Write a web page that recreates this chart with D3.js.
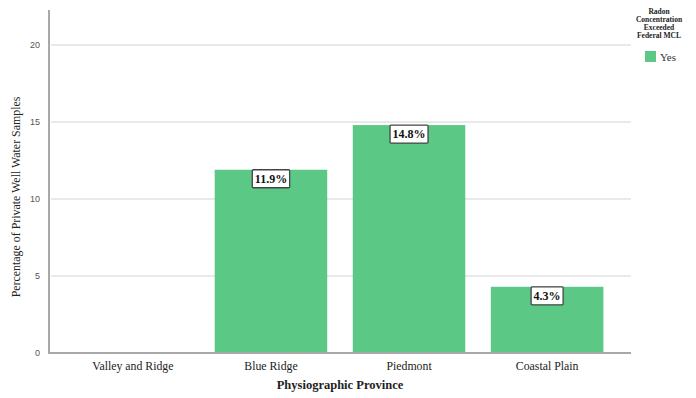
<!DOCTYPE html>
<html>
<head>
<meta charset="utf-8">
<script src="https://cdn.jsdelivr.net/npm/d3@7"></script>
<style>
  html, body { margin: 0; padding: 0; background: #fff; }
  svg { display: block; }
</style>
</head>
<body>
<svg id="chart" width="696" height="398"></svg>
<script>
// Share of private well water samples with radon above the federal MCL
const provinces = ["Valley and Ridge", "Blue Ridge", "Piedmont", "Coastal Plain"];
const pctExceeded = [null, 11.9, 14.8, 4.3];
const yTicks = [0, 5, 10, 15, 20];
const legendTitle = ["Radon", "Concentration", "Exceeded", "Federal MCL"];
const legendLabels = ["Yes"];

const W = 696, H = 398;
const plot = { left: 49, right: 631, top: 10, bottom: 353 };
const barColor = "#5bc985";
const serif = "'Liberation Serif', 'Times New Roman', serif";
const sans = "'Liberation Sans', Arial, sans-serif";

const svg = d3.select("#chart");

const x = d3.scaleBand()
  .domain(provinces)
  .range([plot.left, plot.right])
  .paddingInner(0.185)
  .paddingOuter(0.2);

const y = d3.scaleLinear()
  .domain([0, 20])
  .range([plot.bottom, plot.bottom - 77 * 4]);

// horizontal gridlines
svg.append("g")
  .selectAll("line")
  .data(yTicks.filter(d => d > 0))
  .join("line")
  .attr("x1", plot.left + 2)
  .attr("x2", plot.right)
  .attr("y1", d => y(d))
  .attr("y2", d => y(d))
  .attr("stroke", "#d4d4d4")
  .attr("stroke-width", 1.2);

// bars
const data = provinces.map((p, i) => ({ p, v: pctExceeded[i] })).filter(d => d.v != null);

svg.append("g")
  .selectAll("rect")
  .data(data)
  .join("rect")
  .attr("x", d => x(d.p))
  .attr("width", x.bandwidth())
  .attr("y", d => y(d.v))
  .attr("height", d => y(0) - y(d.v))
  .attr("fill", barColor);

// y axis
const yAxis = d3.axisLeft(y).tickValues(yTicks).tickSize(0).tickPadding(9);
const gy = svg.append("g").attr("transform", `translate(${plot.left},0)`).call(yAxis);
gy.select(".domain").remove();
gy.selectAll("text")
  .attr("font-family", sans)
  .attr("font-size", 9)
  .attr("fill", "#555");

svg.append("line")
  .attr("x1", plot.left).attr("x2", plot.left)
  .attr("y1", plot.top).attr("y2", plot.bottom + 1)
  .attr("stroke", "#a8a8a8").attr("stroke-width", 2);

// x axis
const xAxis = d3.axisBottom(x).tickSize(0).tickPadding(9);
const gx = svg.append("g").attr("transform", `translate(0,${plot.bottom})`).call(xAxis);
gx.select(".domain").remove();
gx.selectAll("text")
  .attr("font-family", serif)
  .attr("font-size", 11.8)
  .attr("fill", "#222");

svg.append("line")
  .attr("x1", plot.left - 1).attr("x2", plot.right)
  .attr("y1", plot.bottom).attr("y2", plot.bottom)
  .attr("stroke", "#a8a8a8").attr("stroke-width", 2);

// value labels
const labels = svg.append("g")
  .selectAll("g")
  .data(data)
  .join("g")
  .attr("transform", d => `translate(${x(d.p) + x.bandwidth() / 2},${y(d.v) + 9})`);

labels.append("text")
  .attr("text-anchor", "middle")
  .attr("dy", "0.35em")
  .attr("font-family", serif)
  .attr("font-weight", "bold")
  .attr("font-size", 12)
  .attr("fill", "#111")
  .text(d => d.v.toFixed(1) + "%");

labels.each(function () {
  const g = d3.select(this);
  const bb = g.select("text").node().getBBox();
  g.insert("rect", "text")
    .attr("x", bb.x - 2.5)
    .attr("y", -9)
    .attr("width", bb.width + 5)
    .attr("height", 18)
    .attr("fill", "#fff")
    .attr("stroke", "#444")
    .attr("stroke-width", 1.3)
    .attr("rx", 1);
});

// axis titles
svg.append("text")
  .attr("x", (plot.left + plot.right) / 2)
  .attr("y", 389)
  .attr("text-anchor", "middle")
  .attr("font-family", serif)
  .attr("font-weight", "bold")
  .attr("font-size", 12.5)
  .attr("fill", "#222")
  .text("Physiographic Province");

svg.append("text")
  .attr("transform", `translate(20,197) rotate(-90)`)
  .attr("text-anchor", "middle")
  .attr("font-family", serif)
  .attr("font-size", 11.9)
  .attr("fill", "#222")
  .text("Percentage of Private Well Water Samples");

// legend
const lg = svg.append("g").attr("transform", "translate(659,0)");
lg.selectAll("text.title")
  .data(legendTitle)
  .join("text")
  .attr("class", "title")
  .attr("x", 0)
  .attr("y", (d, i) => 14 + i * 8)
  .attr("text-anchor", "middle")
  .attr("font-family", serif)
  .attr("font-weight", "bold")
  .attr("font-size", 7.5)
  .attr("fill", "#222")
  .text(d => d);

const items = lg.selectAll("g.item")
  .data(legendLabels)
  .join("g")
  .attr("class", "item")
  .attr("transform", (d, i) => `translate(-14,${51 + i * 14})`);
items.append("rect")
  .attr("width", 11).attr("height", 11)
  .attr("fill", barColor);
items.append("text")
  .attr("x", 15).attr("y", 9.5)
  .attr("font-family", serif)
  .attr("font-size", 11)
  .attr("fill", "#333")
  .text(d => d);
</script>
</body>
</html>
